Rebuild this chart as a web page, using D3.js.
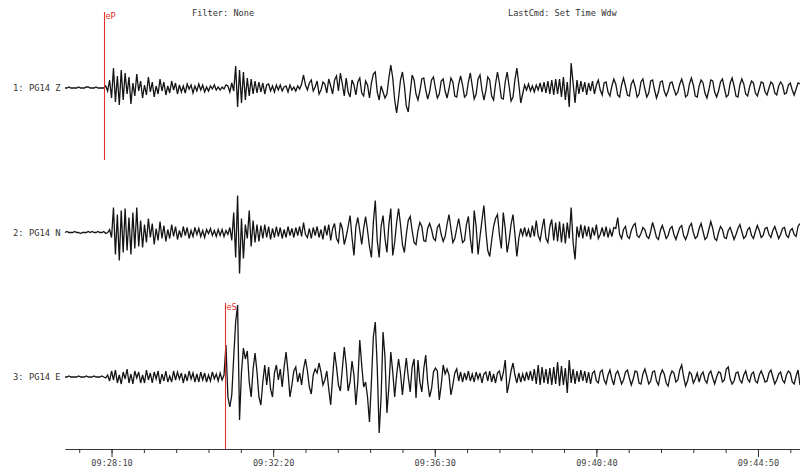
<!DOCTYPE html>
<html><head><meta charset="utf-8">
<script src="https://cdn.jsdelivr.net/npm/d3@7/dist/d3.min.js"></script>
<style>
html,body{margin:0;padding:0;background:#fff;}
text{font-family:"DejaVu Sans Mono","Liberation Mono",monospace;}
</style></head>
<body><svg id="chart" width="800" height="476"></svg>
<script>
// ---- data ----
const channels = ["1: PG14 Z", "2: PG14 N", "3: PG14 E"];
const startTime = "09:26:58";
const endTime = "09:45:55";
const sampleStep = 3; // seconds between samples
const majorTicks = ["09:28:10", "09:32:20", "09:36:30", "09:40:40", "09:44:50"];
const minorTickStep = 50; // seconds
const headerTexts = ["Filter: None", "LastCmd: Set Time Wdw"];
const pickLabels = ["eP", "eS"];
const pickTimes = ["09:27:59", "09:31:06"];
const pickChannels = [0, 2];

const traceZ = [
 0,0,1,0,0,0,0,1,0,0,
 0,1,1,0,0,0,1,0,0,0,
 0,2,-3,8,-10,20,-14,12,-17,18,
 -12,15,-6,11,-16,5,-8,14,-3,7,
 -10,3,-7,11,-4,6,-9,2,-6,9,
 -3,6,-7,2,-5,7,-2,5,-6,3,
 -4,2,-5,4,-1,3,-5,2,-3,4,
 -2,3,-4,1,-3,2,-1,3,-2,1,
 -2,1,-1,3,2,-4,5,-3,22,-19,
 18,-15,16,-12,10,-8,9,-6,7,-5,
 6,-4,5,-6,3,4,-3,2,-4,3,
 -2,3,-3,1,2,-4,3,-2,1,-3,
 2,-1,4,13,3,-2,5,8,-3,1,
 7,-6,-2,6,4,-5,9,2,-6,8,
 12,-3,15,4,-8,10,-4,-9,8,3,
 -7,6,10,-5,-8,7,3,-10,5,14,
 16,-4,-12,2,-4,-10,-6,10,23,10,
 -12,-25,-10,8,16,2,-18,-24,-5,13,
 8,-6,-12,-3,9,10,-2,-11,-4,8,
 11,0,-10,-6,7,9,-3,-10,-1,10,
 6,-8,-9,4,12,3,-9,-7,6,15,
 2,-11,-6,9,13,-2,-12,-3,11,8,
 -8,-12,4,16,5,-10,-11,6,16,2,
 -13,-9,8,20,4,-15,-6,3,-2,4,
 -3,2,-4,3,-2,5,-4,6,-5,7,
 -6,8,-7,9,-6,9,-9,11,-12,6,
 -19,25,5,-15,8,-6,7,-4,6,-7,
 5,-3,7,-6,3,8,-2,-7,5,6,
 -4,-8,2,9,4,-7,-9,3,10,2,
 -7,-8,4,8,1,-9,-6,6,9,-1,
 -9,-5,7,8,-2,-10,-4,6,7,-3,
 -8,-3,5,6,-1,-7,-4,4,9,2,
 -9,-7,4,10,3,-8,-9,2,8,5,
 -5,-10,-2,8,7,-4,-9,-3,6,9,
 0,-9,-7,5,10,2,-8,-9,3,9,
 4,-6,-8,1,7,5,-5,-8,-1,6,
 5,-4,-7,0,6,4,-5,-7,2,6,
 3,-6,-5,3,5,-2,-7,-1,5,4
];

const traceN = [
 0,1,0,0,0,1,0,0,-1,0,
 0,0,1,0,1,0,0,1,0,0,
 1,-1,0,3,-5,25,-22,18,-28,22,
 -20,24,-18,15,-22,20,-16,25,-14,12,
 -15,8,-10,14,-5,9,-12,4,-8,11,
 -6,7,-9,3,-6,8,-4,6,-7,2,
 -5,6,-3,5,-6,2,-4,5,-2,4,
 -4,2,-5,3,-1,4,-3,2,-4,3,
 -3,3,-4,2,-2,5,-8,20,-25,37,
 -41,14,-26,8,-6,22,-14,12,-10,8,
 -9,7,-6,8,-5,6,-7,4,-5,6,
 -4,5,-6,3,-5,6,-3,4,-5,5,
 -3,6,-4,10,-2,-5,4,-6,5,-3,
 6,-5,3,-7,7,-3,8,-8,4,9,
 -6,-10,10,4,-12,-4,6,17,-5,-23,
 6,15,2,-12,4,16,2,-14,-25,10,
 32,-8,-25,6,17,-6,-20,8,24,-23,
 -10,10,24,8,-12,-20,-2,12,16,2,
 -10,-12,2,10,6,-8,-9,4,9,3,
 -6,-8,5,8,-2,-9,-4,8,18,4,
 -10,-6,4,14,2,-10,-8,8,16,-6,
 -21,22,6,-22,-4,12,27,2,-18,-24,
 -8,6,14,18,-2,-16,20,4,-20,-8,
 8,18,-2,-24,-6,4,-3,5,-4,3,
 -5,7,-4,12,-3,-8,4,14,-6,-10,
 6,13,-8,10,-9,11,-10,9,-11,10,
 -6,25,-10,-27,6,-5,8,-6,7,-4,
 6,-7,5,-3,8,-6,-2,5,-4,6,
 -5,3,-4,5,4,15,-2,-6,3,6,
 -4,-6,2,7,9,-3,-5,-1,5,3,
 -4,-6,1,10,3,-5,-7,2,7,1,
 -6,-3,4,6,-2,-7,-1,5,7,-3,
 -7,-2,6,9,0,-6,-4,4,9,1,
 -7,-5,3,11,4,-6,-8,0,6,3,
 -5,-6,2,5,-1,-7,-2,4,8,1,
 -6,-4,3,5,-3,-6,1,7,2,-5,
 -3,4,5,-2,-5,2,6,0,-6,-2,
 4,5,-3,-5,2,4,-2,-4,6,9
];

const traceE = [
 0,0,1,0,0,0,0,1,0,0,
 0,1,0,0,0,1,0,0,0,1,
 0,-1,2,-4,6,-3,7,-6,2,-7,
 5,-2,8,-6,3,-7,6,-1,5,-6,
 2,-6,7,-3,4,-6,5,-2,6,-7,
 3,-4,6,-5,1,-5,6,-3,5,-2,
 4,-6,3,-4,6,-2,4,-5,3,-5,
 5,-3,4,-5,2,-4,5,-2,3,-4,
 4,-3,2,32,-20,-30,-18,20,55,72,
 -43,5,29,18,26,-5,-20,8,24,5,
 -20,-28,-5,12,-8,10,-12,-20,4,12,
 -3,8,-10,10,25,5,-20,-8,6,10,
 -5,4,-8,8,18,6,-10,-17,2,8,
 4,14,5,-8,-3,6,-12,-28,0,25,
 10,-8,-14,8,30,12,-14,-5,16,2,
 -28,-5,37,12,-10,-5,-20,-45,-5,40,
 55,10,-56,-20,45,20,-36,-10,25,5,
 -20,2,18,4,-18,2,19,0,-15,10,
 18,-21,17,-5,-15,8,22,-5,-20,-12,
 5,9,6,-23,-8,12,3,8,2,-18,
 -8,4,8,-4,5,-5,4,-3,6,-4,
 3,-5,5,-2,4,-6,3,5,-4,6,
 -5,3,-6,4,6,-4,4,17,-16,-6,
 6,14,2,-6,4,-5,3,-4,5,-3,
 6,-4,8,-7,12,-8,10,-6,8,-7,
 9,-8,10,-7,15,-9,11,-8,9,-16,
 17,-6,8,-7,6,-5,7,-4,6,-6,
 5,-7,4,6,-4,-6,5,7,-3,-7,
 2,7,-2,-8,3,6,0,-7,-3,5,
 7,-1,-8,-2,6,5,-6,-7,3,8,
 1,-7,-4,5,6,-4,-8,2,7,3,
 -6,-9,1,6,4,-5,-3,7,12,0,
 -9,-4,5,3,-6,-2,4,-5,2,5,
 -3,-6,3,6,-1,-7,0,5,4,-5,
 -3,8,10,-2,-7,-4,4,5,-3,-6,
 2,6,-2,-5,3,5,-4,-6,2,6,
 1,-5,-4,4,7,0,-7,-3,3,5,
 -3,-6,2,6,4,-5,-7,1,7,-8
];
const traces = [traceZ, traceN, traceE];

// ---- drawing ----
const svg = d3.select("#chart");
const parseT = d3.timeParse("%H:%M:%S");
const fmt = d3.timeFormat("%H:%M:%S");
const t0 = parseT(startTime), t1 = parseT(endTime);

const x = d3.scaleTime().domain([t0, t1]).range([65, 800]);
const chanY = d3.scalePoint().domain(d3.range(channels.length)).range([88, 377]);
const ampHalf = 80;
function yScaleFor(ci) {
  const b = chanY(ci);
  return d3.scaleLinear().domain([-ampHalf, ampHalf]).range([b + ampHalf, b - ampHalf]);
}

// header texts
svg.append("text").attr("x", 192).attr("y", 16).attr("font-size", 8.6).attr("fill", "#333").text(headerTexts[0]);
svg.append("text").attr("x", 508).attr("y", 16).attr("font-size", 8.6).attr("fill", "#333").text(headerTexts[1]);

// traces
traces.forEach((vals, ci) => {
  const y = yScaleFor(ci);
  const line = d3.line()
    .x((d, i) => x(new Date(t0.getTime() + i * sampleStep * 1000)))
    .y(d => y(d));
  svg.append("path").datum(vals)
    .attr("d", line)
    .attr("fill", "none")
    .attr("stroke", "#141414")
    .attr("stroke-width", 1.3)
    .attr("stroke-linejoin", "miter");
  svg.append("text")
    .attr("x", 13).attr("y", chanY(ci) + 3)
    .attr("font-size", 8.8).attr("fill", "#333")
    .text(channels[ci]);
});

// picks
pickLabels.forEach((lab, k) => {
  const ci = pickChannels[k];
  const y = yScaleFor(ci);
  const px = Math.round(x(parseT(pickTimes[k]))) + 0.5;
  const top = ci === 0 ? y(76) : y(74);
  const bot = y(-72);
  svg.append("line").attr("x1", px).attr("x2", px).attr("y1", top).attr("y2", bot)
    .attr("stroke", "#e0302a").attr("stroke-width", 1.1);
  svg.append("text").attr("x", px + 1).attr("y", top + 7)
    .attr("font-size", 8.5).attr("fill", "#e0302a")
    .attr("font-family", "DejaVu Sans, sans-serif").text(lab);
});

// time axis
const axisY = 449;
const minorVals = [];
for (let t = parseT(majorTicks[0]).getTime() - minorTickStep * 1000; t <= t1.getTime(); t += minorTickStep * 1000) {
  if (t >= t0.getTime()) minorVals.push(new Date(t));
}
const majorDates = majorTicks.map(parseT);
svg.append("g").attr("transform", `translate(0,${axisY})`)
  .call(d3.axisBottom(x).tickValues(minorVals).tickSize(4).tickFormat("").tickSizeOuter(0))
  .call(g => g.select(".domain").attr("stroke", "#333"))
  .call(g => g.selectAll(".tick line").attr("stroke", "#333"));
svg.append("g").attr("transform", `translate(0,${axisY})`)
  .call(d3.axisBottom(x).tickValues(majorDates).tickSize(8).tickSizeOuter(0).tickPadding(3).tickFormat(fmt))
  .call(g => g.select(".domain").remove())
  .call(g => g.selectAll(".tick line").attr("stroke", "#333"))
  .call(g => g.selectAll(".tick text").attr("font-size", 8.6).attr("fill", "#444")
    .attr("font-family", "DejaVu Sans Mono, monospace"));
</script>
</body></html>
